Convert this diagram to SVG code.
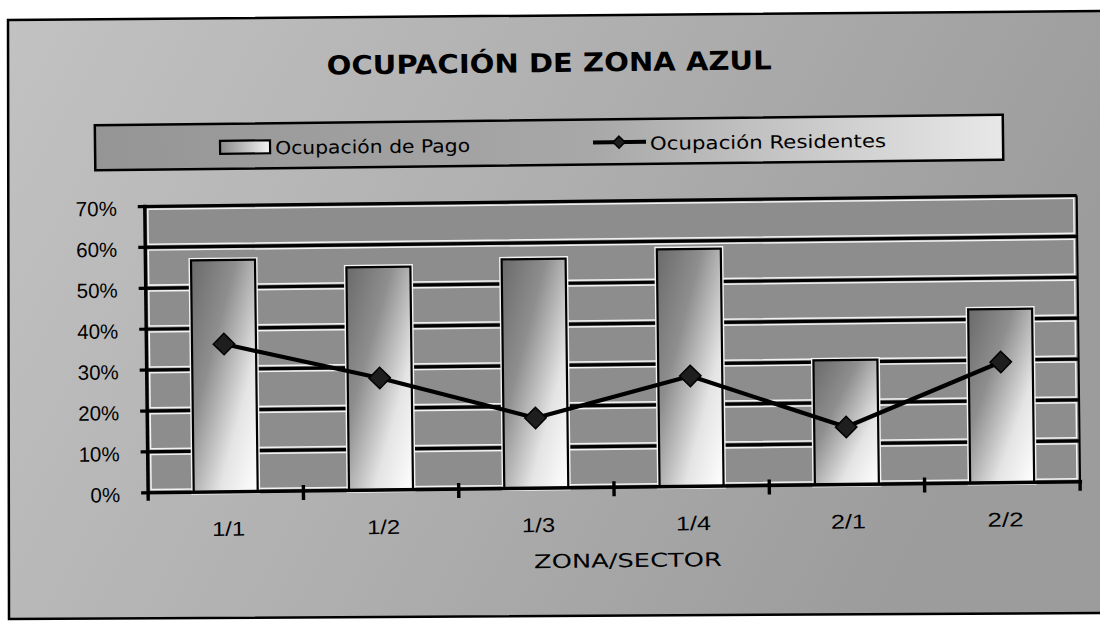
<svg xmlns="http://www.w3.org/2000/svg" width="1100" height="621" viewBox="0 0 1100 621">
<defs>
<linearGradient id="bg" x1="0" y1="0" x2="1" y2="0.3">
<stop offset="0" stop-color="#c2c2c2"/>
<stop offset="0.5" stop-color="#b0b0b0"/>
<stop offset="1" stop-color="#9c9c9c"/>
</linearGradient>
<linearGradient id="leg" x1="0" y1="0" x2="1" y2="0">
<stop offset="0" stop-color="#959595"/>
<stop offset="0.55" stop-color="#a8a8a8"/>
<stop offset="1" stop-color="#e8e8e8"/>
</linearGradient>
<linearGradient id="bar" x1="0" y1="0" x2="1" y2="1">
<stop offset="0" stop-color="#6a6a6a"/>
<stop offset="0.35" stop-color="#8e8e8e"/>
<stop offset="0.7" stop-color="#e4e4e4"/>
<stop offset="1" stop-color="#ffffff"/>
</linearGradient>
<linearGradient id="sw" x1="0" y1="0" x2="1" y2="0">
<stop offset="0" stop-color="#8a8a8a"/>
<stop offset="1" stop-color="#f4f4f4"/>
</linearGradient>
<style>
.grid{stroke:#000;stroke-width:3.2;fill:none}
.band{fill:#8d8d8d;stroke:#f2f2f2;stroke-width:1.5}
.b{fill:url(#bar);stroke:#000;stroke-width:2.2}
.bh{fill:none;stroke:#f2f2f2;stroke-width:5}
.ax{stroke:#000;stroke-width:3.4;fill:none}
.pct{font-family:"Liberation Sans",Arial,sans-serif;font-size:20.5px;fill:#000;text-anchor:end}
.cat{font-family:"Liberation Sans",Arial,sans-serif;font-size:20px;fill:#000;text-anchor:middle}
.comic{font-family:"DejaVu Sans","Liberation Sans",sans-serif;fill:#000}
.dia{fill:#1e1e1e;stroke:#000;stroke-width:1.5}
</style>
</defs>
<rect x="0" y="0" width="1100" height="621" fill="#ffffff"/>
<polygon id="frame" points="8,20 1102,11 1102,613 9,619" fill="url(#bg)" stroke="#000" stroke-width="2.5"/>
<g id="chart" transform="rotate(-0.675 550 310)">
<text id="title" class="comic" x="552" y="72" font-size="26" font-weight="bold" text-anchor="middle" textLength="445" lengthAdjust="spacingAndGlyphs">OCUPACIÓN DE ZONA AZUL</text>
<g id="legend">
<rect x="97" y="120" width="908" height="45" fill="url(#leg)" stroke="#000" stroke-width="2.5"/>
<rect x="222" y="137" width="50" height="13" fill="url(#sw)" stroke="#000" stroke-width="2.2"/>
<text class="comic" x="277" y="151" font-size="18" textLength="195" lengthAdjust="spacingAndGlyphs">Ocupación  de Pago</text>
<line x1="595" y1="143" x2="648" y2="143" stroke="#000" stroke-width="4"/>
<polygon class="dia" points="621,137 627,143 621,149 615,143"/>
<text class="comic" x="652" y="151" font-size="18" textLength="236" lengthAdjust="spacingAndGlyphs">Ocupación Residentes</text>
</g>
<g id="plot">
<rect x="146" y="201.7" width="932" height="286.3" fill="#8d8d8d"/>
<rect class="band" x="149" y="204.5" width="926" height="35"/>
<rect class="band" x="149" y="245.4" width="926" height="35"/>
<rect class="band" x="149" y="286.3" width="926" height="35"/>
<rect class="band" x="149" y="327.2" width="926" height="35"/>
<rect class="band" x="149" y="368.1" width="926" height="35"/>
<rect class="band" x="149" y="409" width="926" height="35"/>
<rect class="band" x="149" y="449.9" width="926" height="35"/>
<line x1="1078" y1="201.7" x2="1078" y2="488" stroke="#000" stroke-width="2"/>
<g id="gridlines">
<line class="grid" x1="139" y1="201.7" x2="1078" y2="201.7"/>
<line class="grid" x1="139" y1="242.6" x2="1078" y2="242.6"/>
<line class="grid" x1="139" y1="283.5" x2="1078" y2="283.5"/>
<line class="grid" x1="139" y1="324.4" x2="1078" y2="324.4"/>
<line class="grid" x1="139" y1="365.3" x2="1078" y2="365.3"/>
<line class="grid" x1="139" y1="406.2" x2="1078" y2="406.2"/>
<line class="grid" x1="139" y1="447.1" x2="1078" y2="447.1"/>
</g>
<g id="bars">
<rect class="bh" x="191.6" y="256.2" width="64" height="231.8"/>
<rect class="bh" x="346.9" y="265" width="64" height="223"/>
<rect class="bh" x="502.2" y="258.8" width="64" height="229.2"/>
<rect class="bh" x="657.5" y="250.6" width="64" height="237.4"/>
<rect class="bh" x="812.8" y="363.5" width="64" height="124.5"/>
<rect class="bh" x="968.1" y="314.3" width="64" height="173.7"/>
<rect id="bar-1-1" class="b" x="191.6" y="256.2" width="64" height="231.8"/>
<rect id="bar-1-2" class="b" x="346.9" y="265" width="64" height="223"/>
<rect id="bar-1-3" class="b" x="502.2" y="258.8" width="64" height="229.2"/>
<rect id="bar-1-4" class="b" x="657.5" y="250.6" width="64" height="237.4"/>
<rect id="bar-2-1" class="b" x="812.8" y="363.5" width="64" height="124.5"/>
<rect id="bar-2-2" class="b" x="968.1" y="314.3" width="64" height="173.7"/>
</g>
<g id="axes">
<line class="ax" x1="146" y1="200" x2="146" y2="496"/>
<line class="ax" x1="139" y1="488" x2="1080" y2="488"/>
<line class="ax" x1="301.3" y1="482" x2="301.3" y2="497"/>
<line class="ax" x1="456.6" y1="482" x2="456.6" y2="497"/>
<line class="ax" x1="611.9" y1="482" x2="611.9" y2="497"/>
<line class="ax" x1="767.2" y1="482" x2="767.2" y2="497"/>
<line class="ax" x1="922.5" y1="482" x2="922.5" y2="497"/>
<line class="ax" x1="1078" y1="486" x2="1078" y2="497"/>
</g>
<g id="series-residentes">
<polyline points="223.6,340.2 378.9,376 534.2,417.8 689.5,377.6 844.8,430.5 1000.1,367.3" fill="none" stroke="#000" stroke-width="4.2" stroke-linejoin="round"/>
<polygon class="dia" points="223.6,329.5 234.3,340.2 223.6,350.9 212.9,340.2"/>
<polygon class="dia" points="378.9,365.3 389.6,376 378.9,386.7 368.2,376"/>
<polygon class="dia" points="534.2,407.1 544.9,417.8 534.2,428.5 523.5,417.8"/>
<polygon class="dia" points="689.5,366.9 700.2,377.6 689.5,388.3 678.8,377.6"/>
<polygon class="dia" points="844.8,419.8 855.5,430.5 844.8,441.2 834.1,430.5"/>
<polygon class="dia" points="1000.1,356.6 1010.8,367.3 1000.1,378 989.4,367.3"/>
</g>
<g id="y-labels">
<text class="pct" x="118" y="210.7">70%</text>
<text class="pct" x="118" y="251.6">60%</text>
<text class="pct" x="118" y="292.5">50%</text>
<text class="pct" x="118" y="333.4">40%</text>
<text class="pct" x="118" y="374.3">30%</text>
<text class="pct" x="118" y="415.2">20%</text>
<text class="pct" x="118" y="456.1">10%</text>
<text class="pct" x="118" y="497">0%</text>
</g>
<g id="x-labels">
<text class="cat" x="226" y="532" textLength="33" lengthAdjust="spacingAndGlyphs">1/1</text>
<text class="cat" x="381" y="532" textLength="33" lengthAdjust="spacingAndGlyphs">1/2</text>
<text class="cat" x="536" y="532" textLength="33" lengthAdjust="spacingAndGlyphs">1/3</text>
<text class="cat" x="691" y="532" textLength="35" lengthAdjust="spacingAndGlyphs">1/4</text>
<text class="cat" x="846" y="532" textLength="35" lengthAdjust="spacingAndGlyphs">2/1</text>
<text class="cat" x="1003" y="532" textLength="36" lengthAdjust="spacingAndGlyphs">2/2</text>
</g>
<text id="x-title" class="comic" x="625" y="568" font-size="19" text-anchor="middle" textLength="188" lengthAdjust="spacingAndGlyphs">ZONA/SECTOR</text>
</g>
</g>
</svg>
